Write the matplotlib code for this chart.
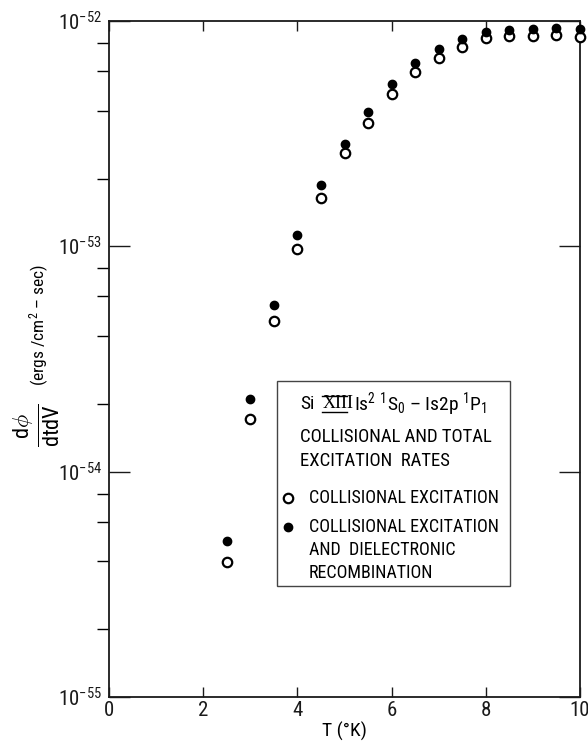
import numpy as np
import matplotlib.pyplot as plt
from matplotlib.lines import Line2D
from matplotlib.patches import Rectangle
from matplotlib.ticker import LogLocator, NullFormatter, FixedLocator, FuncFormatter

FONT = ['Roboto Condensed', 'Archivo Narrow', 'Liberation Sans Narrow', 'DejaVu Sans']
plt.rcParams['font.family'] = FONT
plt.rcParams['mathtext.fontset'] = 'custom'
plt.rcParams['mathtext.rm'] = 'Roboto Condensed'
plt.rcParams['mathtext.it'] = 'Roboto Condensed:italic'
plt.rcParams['mathtext.bf'] = 'Roboto Condensed:bold'

# Si XIII excitation rates vs temperature
temp = [2.5, 3.0, 3.5, 4.0, 4.5, 5.0, 5.5, 6.0, 6.5, 7.0, 7.5, 8.0, 8.5, 9.0, 9.5, 10.0]
rate_coll = [3.97e-55, 1.71e-54, 4.66e-54, 9.73e-54, 1.64e-53, 2.60e-53, 3.53e-53, 4.74e-53,
             5.94e-53, 6.85e-53, 7.66e-53, 8.40e-53, 8.58e-53, 8.58e-53, 8.67e-53, 8.49e-53]
rate_total = [4.92e-55, 2.10e-54, 5.49e-54, 1.12e-53, 1.87e-53, 2.84e-53, 3.95e-53, 5.25e-53,
              6.51e-53, 7.51e-53, 8.32e-53, 8.94e-53, 9.12e-53, 9.21e-53, 9.31e-53, 9.21e-53]

x_ticks = [0, 2, 4, 6, 8, 10]

W, H = 588, 745
fig = plt.figure(figsize=(W / 100, H / 100), dpi=100)
ax = fig.add_axes([109 / W, 48 / H, 471 / W, 676 / H])


def px(x, y):
    return x / W, 1 - y / H


ax.plot(temp, rate_coll, 'o', mfc='white', mec='black', ms=6.8, mew=1.6, clip_on=False, zorder=3)
ax.plot(temp, rate_total, 'o', color='black', ms=6.0, clip_on=False, zorder=4)

ax.set_yscale('log')
ax.set_xlim(0, 10)
ax.set_ylim(1e-55, 1e-52)
ax.xaxis.set_major_locator(FixedLocator(x_ticks))
ax.xaxis.set_major_formatter(FuncFormatter(lambda v, p: '%d' % v))
ax.yaxis.set_major_locator(LogLocator(base=10, numticks=10))
ax.yaxis.set_major_formatter(FuncFormatter(lambda v, p: r'10$^{%d}$' % round(np.log10(v))))
ax.yaxis.set_minor_locator(LogLocator(base=10, subs=(2, 4, 6, 8), numticks=10))
ax.yaxis.set_minor_formatter(NullFormatter())

ax.tick_params(direction='in', top=True, right=True, labelsize=15, width=1.0, colors='#1a1a1a')
ax.tick_params(axis='y', which='major', length=15, pad=5)
ax.tick_params(axis='y', which='minor', length=9, width=1.0)
ax.tick_params(axis='x', which='major', length=7, pad=3)
for s in ax.spines.values():
    s.set_linewidth(1.3)
    s.set_color('#1a1a1a')

ax.set_xlabel('T (°K)', fontsize=14, labelpad=1)

# rotated y label: fraction plus units
fig.text(*px(37, 425), r'$\frac{\mathrm{d}\phi}{\mathrm{dtdV}}$', rotation=90, fontsize=23,
         ha='center', va='center')
fig.text(*px(39, 325), r'(ergs /cm$^2$ – sec)', rotation=90, fontsize=12.5,
         ha='center', va='center')

# legend / description box
box = Rectangle(px(277, 586), 233 / W, 205 / H, transform=fig.transFigure,
                fill=False, edgecolor='#444444', linewidth=1.0)
fig.add_artist(box)

fig.text(*px(300, 404), 'Si', fontsize=14, va='center')
fig.text(*px(323, 404), 'XIII', fontsize=13, va='center', family=['Liberation Serif', 'DejaVu Serif'])
fig.add_artist(Line2D([322 / W, 347 / W], [1 - 396 / H] * 2, transform=fig.transFigure, color='black', lw=1))
fig.add_artist(Line2D([322 / W, 347 / W], [1 - 412 / H] * 2, transform=fig.transFigure, color='black', lw=1))
fig.text(*px(354, 404), r'Is$^2$ $^1$S$_0$ – Is2p $^1$P$_1$', fontsize=14, va='center')
fig.text(*px(300, 437), 'COLLISIONAL AND TOTAL', fontsize=13.5, va='center')
fig.text(*px(300, 461), 'EXCITATION  RATES', fontsize=13.5, va='center')

fig.add_artist(Line2D([288 / W], [1 - 498 / H], transform=fig.transFigure, marker='o',
                      mfc='white', mec='black', ms=6.8, mew=1.6, ls='none'))
fig.add_artist(Line2D([288 / W], [1 - 527 / H], transform=fig.transFigure, marker='o',
                      color='black', ms=6.0, ls='none'))
fig.text(*px(309, 498), 'COLLISIONAL EXCITATION', fontsize=13, va='center')
fig.text(*px(309, 527), 'COLLISIONAL EXCITATION', fontsize=13, va='center')
fig.text(*px(309, 550), 'AND  DIELECTRONIC', fontsize=13, va='center')
fig.text(*px(309, 573), 'RECOMBINATION', fontsize=13, va='center')

fig.savefig('out.png', dpi=100)
